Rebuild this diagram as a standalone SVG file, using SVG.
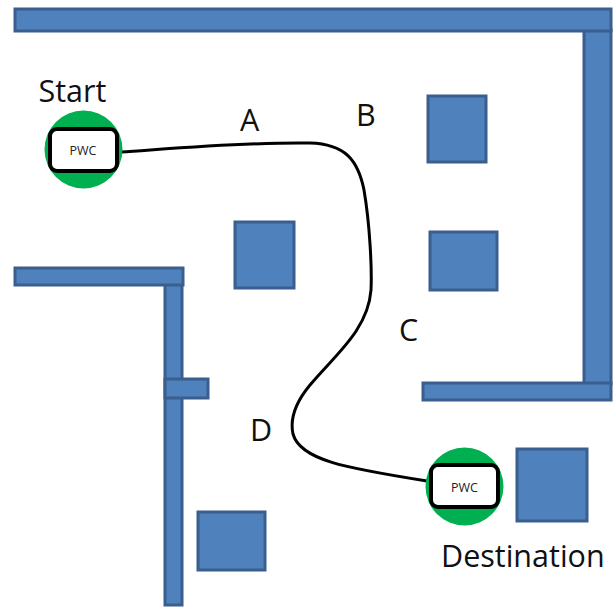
<svg xmlns="http://www.w3.org/2000/svg" width="614" height="608" viewBox="0 0 614 608">
<style>
.b{fill:#4f81bd;stroke:#3a5f8e;stroke-width:3}
.l{font-family:"Open Sans","Noto Sans","DejaVu Sans",sans-serif;fill:#111;font-size:30.5px}
.p{font-family:"Open Sans","Noto Sans","DejaVu Sans",sans-serif;fill:#222;font-size:12.5px;text-anchor:middle}
.g{fill:#00b050}
.r{fill:#fff;stroke:#000;stroke-width:4}
</style>
<rect width="614" height="608" fill="#fff"/>
<g id="walls">
<rect class="b" x="584" y="30" width="27" height="354"/>
<rect class="b" x="15" y="9" width="596" height="22"/>
<rect class="b" x="423" y="383" width="188" height="17"/>
<rect class="b" x="165" y="284" width="17" height="321"/>
<rect class="b" x="15" y="268" width="168" height="17"/>
<rect class="b" x="165" y="379" width="43" height="19"/>
</g>
<g id="obstacles">
<rect class="b" x="428" y="96" width="58" height="66"/>
<rect class="b" x="430" y="232" width="67" height="58"/>
<rect class="b" x="235" y="222" width="59" height="66"/>
<rect class="b" x="198" y="512" width="67" height="58"/>
<rect class="b" x="517" y="449" width="70" height="72"/>
</g>
<g id="connectors">
<path d="M121 152C180 148 250 142 310 143C345 144 358 160 364 190C370 225 372 270 371 290C368 330 335 355 310 385C295 403 290 420 293 434C300 460 345 468 427 481" fill="none" stroke="#000" stroke-width="3"/>
</g>
<g id="start">
<circle class="g" cx="83.500" cy="149.500" r="39"/>
<rect class="r" x="50" y="129" width="67" height="42" rx="7"/>
<text class="p" x="83" y="155">PWC</text>
<text class="l" x="38.500" y="102">Start</text>
</g>
<g id="destination">
<circle class="g" cx="464.500" cy="486.500" r="39"/>
<rect class="r" x="431" y="465" width="67" height="42" rx="7"/>
<text class="p" x="464.500" y="491.500">PWC</text>
<text class="l" x="441" y="567">Destination</text>
</g>
<g id="labels">
<text class="l" x="240" y="131">A</text>
<text class="l" x="356" y="126">B</text>
<text class="l" x="399" y="341">C</text>
<text class="l" x="250" y="441">D</text>
</g>
</svg>
